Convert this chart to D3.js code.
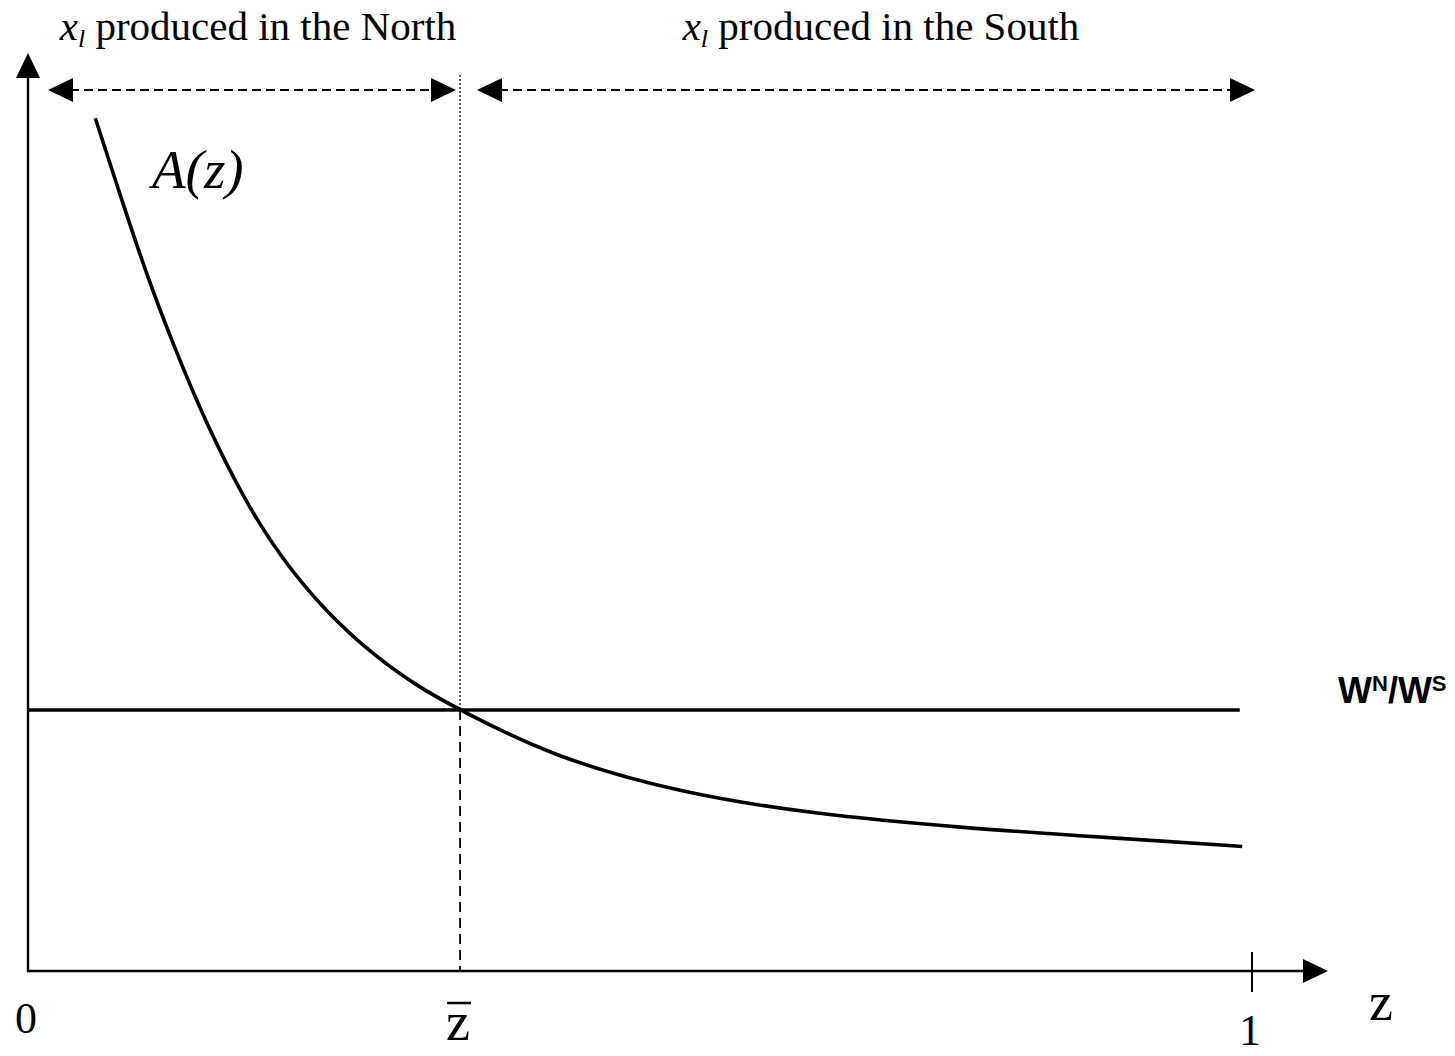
<!DOCTYPE html>
<html>
<head>
<meta charset="utf-8">
<script src="https://cdn.jsdelivr.net/npm/d3@7"></script>
<style>
  html, body { margin: 0; padding: 0; background: #fff; }
  svg { display: block; }
</style>
</head>
<body>
<script>
const width = 1455;
const height = 1056;

// curve A(z)
const zValues = [0.055, 0.078, 0.097, 0.118, 0.146, 0.177, 0.206, 0.244, 0.282, 0.320, 0.353, 0.428, 0.534, 0.638, 0.764, 0.890, 0.992];
const aValues = [9.31, 8.36, 7.60, 6.86, 5.96, 5.14, 4.52, 3.91, 3.45, 3.09, 2.85, 2.34, 1.94, 1.72, 1.56, 1.45, 1.36];
const wageRatio = 2.85;
const zBar = 0.353;
const lineEnd = 0.99;
const xTicks = ["0", "1"];

const x = d3.scaleLinear().domain([0, 1]).range([28, 1252]);
const y = d3.scaleLinear().domain([0, 10]).range([971, 55]);

const svg = d3.select("body").append("svg")
  .attr("width", width)
  .attr("height", height);

function arrowHead(tipX, tipY, dir, len = 25, half = 12) {
  let pts;
  if (dir === "up") pts = [[tipX, tipY], [tipX - half, tipY + len], [tipX + half, tipY + len]];
  if (dir === "right") pts = [[tipX, tipY], [tipX - len, tipY - half], [tipX - len, tipY + half]];
  if (dir === "left") pts = [[tipX, tipY], [tipX + len, tipY - half], [tipX + len, tipY + half]];
  svg.append("path").attr("d", "M" + pts.join("L") + "Z").attr("fill", "#000");
}

// axes
svg.append("line")
  .attr("x1", x(0)).attr("y1", y(0) + 1)
  .attr("x2", x(0)).attr("y2", 70)
  .attr("stroke", "#000").attr("stroke-width", 2.4);
arrowHead(x(0), 53, "up");

svg.append("line")
  .attr("x1", x(0) - 1).attr("y1", y(0))
  .attr("x2", 1310).attr("y2", y(0))
  .attr("stroke", "#000").attr("stroke-width", 2.4);
arrowHead(1328, y(0), "right");

svg.append("line")
  .attr("x1", x(1)).attr("x2", x(1))
  .attr("y1", y(0) - 19).attr("y2", y(0) + 21)
  .attr("stroke", "#000").attr("stroke-width", 2);

// vertical at z-bar: dotted above, dashed below
svg.append("line")
  .attr("x1", x(zBar)).attr("x2", x(zBar))
  .attr("y1", 75).attr("y2", y(wageRatio))
  .attr("stroke", "#000").attr("stroke-width", 1.3)
  .attr("stroke-dasharray", "2,2");
svg.append("line")
  .attr("x1", x(zBar)).attr("x2", x(zBar))
  .attr("y1", y(wageRatio)).attr("y2", y(0))
  .attr("stroke", "#000").attr("stroke-width", 1.8)
  .attr("stroke-dasharray", "10,6");

// wage ratio line
svg.append("line")
  .attr("x1", x(0)).attr("x2", x(lineEnd))
  .attr("y1", y(wageRatio)).attr("y2", y(wageRatio))
  .attr("stroke", "#000").attr("stroke-width", 3.6);

// A(z) curve
const pts = zValues.map((z, i) => [z, aValues[i]]);
svg.append("path")
  .datum(pts)
  .attr("fill", "none")
  .attr("stroke", "#000")
  .attr("stroke-width", 3.6)
  .attr("d", d3.line().x(d => x(d[0])).y(d => y(d[1])).curve(d3.curveBasis));

// region arrows
const arrowY = 90;
function dashedArrow(x1, x2) {
  svg.append("line")
    .attr("x1", x1 + 22).attr("x2", x2 - 22)
    .attr("y1", arrowY).attr("y2", arrowY)
    .attr("stroke", "#000").attr("stroke-width", 2.2)
    .attr("stroke-dasharray", "9,5");
  arrowHead(x1, arrowY, "left");
  arrowHead(x2, arrowY, "right");
}
dashedArrow(48, 456);
dashedArrow(477, 1255);

// labels
const serif = "'Liberation Serif', 'Times New Roman', serif";
function regionLabel(cx, rest) {
  const t = svg.append("text")
    .attr("x", cx).attr("y", 40)
    .attr("text-anchor", "middle")
    .attr("font-family", serif)
    .attr("font-size", 41)
    .attr("fill", "#000");
  t.append("tspan").attr("font-style", "italic").text("x");
  t.append("tspan").attr("font-style", "italic").attr("font-size", 26)
    .attr("dy", 7).text("l");
  t.append("tspan").attr("dy", -7).text(" " + rest);
}
regionLabel(258, "produced in the North");
regionLabel(881, "produced in the South");

svg.append("text")
  .attr("x", 152).attr("y", 188)
  .attr("font-family", serif)
  .attr("font-style", "italic")
  .attr("font-size", 55)
  .attr("fill", "#000")
  .text("A(z)");

// axis labels
svg.selectAll("text.tick")
  .data(xTicks)
  .join("text")
  .attr("class", "tick")
  .attr("x", (d, i) => x(i) - 2)
  .attr("y", (d, i) => i === 0 ? 1033 : 1045)
  .attr("text-anchor", "middle")
  .attr("font-family", serif)
  .attr("font-size", 44)
  .attr("fill", "#000")
  .text(d => d);

svg.append("text")
  .attr("x", x(zBar) - 2).attr("y", 1040)
  .attr("text-anchor", "middle")
  .attr("font-family", serif)
  .attr("font-size", 54)
  .attr("fill", "#000")
  .text("z");
svg.append("line")
  .attr("x1", x(zBar) - 13).attr("x2", x(zBar) + 11)
  .attr("y1", 1003).attr("y2", 1003)
  .attr("stroke", "#000").attr("stroke-width", 2.5);

svg.append("text")
  .attr("x", 1381).attr("y", 1020)
  .attr("text-anchor", "middle")
  .attr("font-family", serif)
  .attr("font-size", 54)
  .attr("fill", "#000")
  .text("z");

// W^N / W^S label
const w = svg.append("text")
  .attr("x", 1338).attr("y", 703)
  .attr("font-family", "'Liberation Sans', Arial, sans-serif")
  .attr("font-weight", "bold")
  .attr("font-size", 36)
  .attr("fill", "#000");
w.append("tspan").text("W");
w.append("tspan").attr("font-size", 22).attr("dy", -12).text("N");
w.append("tspan").attr("dy", 12).text("/W");
w.append("tspan").attr("font-size", 22).attr("dy", -12).text("S");
</script>
</body>
</html>
